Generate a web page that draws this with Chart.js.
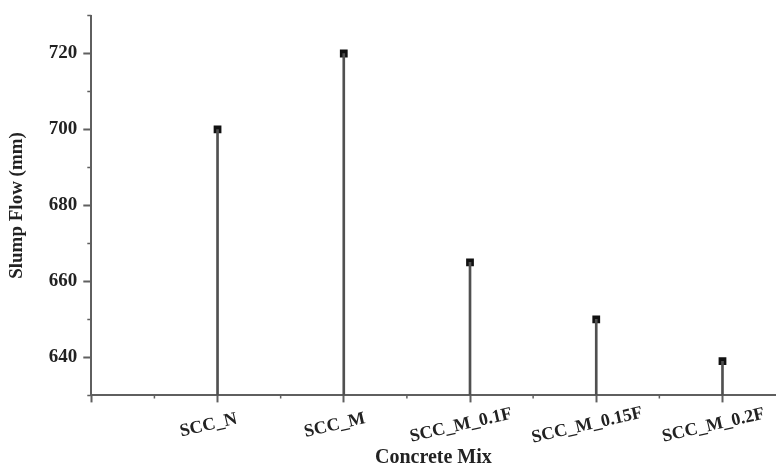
<!DOCTYPE html>
<html>
<head>
<meta charset="utf-8">
<script src="https://cdn.jsdelivr.net/npm/chart.js@4.4.1/dist/chart.umd.min.js"></script>
<style>
  html, body { margin: 0; padding: 0; background: #fff; }
  #wrap { width: 781px; height: 472px; }
</style>
</head>
<body>
<div id="wrap"><canvas id="slump"></canvas></div>
<script>
// categories along the x axis, placed at positions 1..5
const mixes = ['SCC_N', 'SCC_M', 'SCC_M_0.1F', 'SCC_M_0.15F', 'SCC_M_0.2F'];
const slumpFlow = [700, 720, 665, 650, 639];
const yTicks = [640, 660, 680, 700, 720];
const yMin = 630, yMax = 730;
const xMin = 0, xMax = 5.42;

const points = mixes.map((m, i) => ({ x: i + 1, y: slumpFlow[i] }));
const drops = mixes.map((m, i) => ({ x: i + 1, y: [yMin, slumpFlow[i]] }));

const axisColor = '#5f5f5f';
const textColor = '#222';
const serif = 'Liberation Serif, Times New Roman, serif';

// minor ticks and the tilted category names under the x axis
const axisExtras = {
    id: 'axisExtras',
    afterDraw(chart) {
        const ctx = chart.ctx;
        const x = chart.scales.x, y = chart.scales.y;
        ctx.save();
        ctx.strokeStyle = axisColor;
        ctx.lineWidth = 1.5;
        ctx.beginPath();
        for (let v = xMin + 0.5; v <= xMax; v += 1) {
            const px = x.getPixelForValue(v);
            ctx.moveTo(px, y.bottom);
            ctx.lineTo(px, y.bottom + 3);
        }
        for (let v = yMin; v <= yMax; v += 20) {
            const py = y.getPixelForValue(v);
            ctx.moveTo(x.left, py);
            ctx.lineTo(x.left - 4, py);
        }
        ctx.stroke();

        ctx.fillStyle = textColor;
        ctx.font = 'bold 18px ' + serif;
        ctx.textAlign = 'center';
        ctx.textBaseline = 'middle';
        mixes.forEach((name, i) => {
            const px = x.getPixelForValue(i + 1);
            ctx.save();
            ctx.translate(px - 9, y.bottom + 30);
            ctx.rotate(-13 * Math.PI / 180);
            ctx.fillText(name, 0, 0);
            ctx.restore();
        });
        ctx.restore();
    }
};

new Chart(document.getElementById('slump').getContext('2d'), {
    data: {
        datasets: [
            {
                type: 'bar',
                label: 'drop',
                data: drops,
                backgroundColor: '#505050',
                barThickness: 2,
                borderSkipped: false
            },
            {
                type: 'scatter',
                label: 'Slump Flow',
                data: points,
                pointStyle: 'rect',
                pointRadius: 5.5,
                pointHoverRadius: 5.5,
                backgroundColor: '#111',
                borderColor: '#111',
                borderWidth: 0
            }
        ]
    },
    options: {
        responsive: true,
        maintainAspectRatio: false,
        animation: false,
        layout: { padding: { top: 2, right: 0, bottom: 2, left: 6 } },
        plugins: {
            legend: { display: false },
            tooltip: { enabled: false }
        },
        scales: {
            x: {
                type: 'linear',
                min: xMin,
                max: xMax,
                offset: false,
                afterBuildTicks: (scale) => {
                    scale.ticks = [0, 1, 2, 3, 4, 5].map(v => ({ value: v }));
                },
                ticks: {
                    autoSkip: false,
                    maxRotation: 0,
                    padding: 0,
                    font: { family: serif, size: 18, weight: 'bold' },
                    callback: () => ''
                },
                grid: {
                    offset: false,
                    drawOnChartArea: false,
                    drawTicks: true,
                    tickLength: 7,
                    tickWidth: 2,
                    tickColor: axisColor
                },
                border: { color: axisColor, width: 2 },
                title: {
                    display: true,
                    text: 'Concrete Mix',
                    color: textColor,
                    font: { family: serif, size: 20, weight: 'bold' },
                    padding: { top: 22, bottom: 0 }
                }
            },
            y: {
                type: 'linear',
                min: yMin,
                max: yMax,
                afterBuildTicks: (scale) => {
                    scale.ticks = yTicks.map(v => ({ value: v }));
                },
                ticks: {
                    padding: 6,
                    color: textColor,
                    font: { family: serif, size: 19, weight: 'bold', lineHeight: 1.0 }
                },
                grid: {
                    drawOnChartArea: false,
                    drawTicks: true,
                    tickLength: 8,
                    tickWidth: 2,
                    tickColor: axisColor
                },
                border: { color: axisColor, width: 2 },
                title: {
                    display: true,
                    text: 'Slump Flow (mm)',
                    color: textColor,
                    font: { family: serif, size: 19, weight: 'bold' },
                    padding: { top: 0, bottom: 14 }
                }
            }
        }
    },
    plugins: [axisExtras]
});
</script>
</body>
</html>
